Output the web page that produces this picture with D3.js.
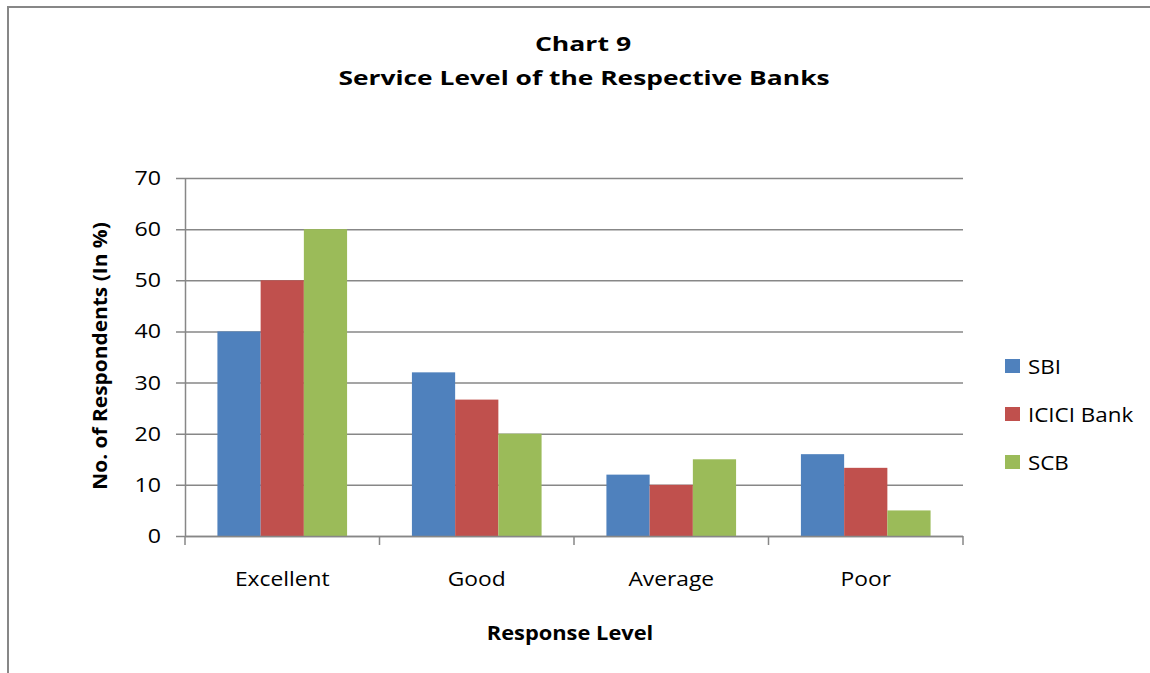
<!DOCTYPE html>
<html>
<head>
<meta charset="utf-8">
<script src="https://cdn.jsdelivr.net/npm/d3@7"></script>
<style>
    body { margin: 0; background: #fff; }
    text { font-family: "Open Sans", "Noto Sans", sans-serif; fill: #000; }
</style>
</head>
<body>
<script>
const categories = ["Excellent", "Good", "Average", "Poor"];
const seriesNames = ["SBI", "ICICI Bank", "SCB"];
const sbiValues = [40, 32, 12, 16];
const iciciValues = [50, 26.67, 10, 13.33];
const scbValues = [60, 20, 15, 5];
const yTicks = [0, 10, 20, 30, 40, 50, 60, 70];
const colors = ["#4F81BD", "#C0504D", "#9BBB59"];

const width = 1150, height = 673;
const plot = { left: 185, right: 963, top: 178, bottom: 536 };

const svg = d3.select("body").append("svg")
    .attr("width", width)
    .attr("height", height);

// the original text is stretched sideways, so every label gets a horizontal scale
function label(parent, x, y, str, size, sx, anchor, bold, rotate) {
    const rot = rotate ? ` rotate(${rotate})` : "";
    return parent.append("text")
        .attr("transform", `translate(${x},${y})${rot} scale(${sx},1)`)
        .attr("text-anchor", anchor)
        .attr("font-size", size)
        .attr("font-weight", bold ? "bold" : "normal")
        .text(str);
}

// outer chart frame
svg.append("rect")
    .attr("x", 8).attr("y", 7)
    .attr("width", 1160).attr("height", 700)
    .attr("fill", "none")
    .attr("stroke", "#878787")
    .attr("stroke-width", 2);

const x0 = d3.scaleBand()
    .domain(categories)
    .range([plot.left, plot.right])
    .paddingInner(0).paddingOuter(0);

const x1 = d3.scaleBand()
    .domain(seriesNames)
    .range([0, x0.bandwidth()])
    .paddingInner(0).paddingOuter(0.75);

const y = d3.scaleLinear()
    .domain([0, 70])
    .range([plot.bottom, plot.top]);

// gridlines + y ticks
svg.append("g")
    .selectAll("line")
    .data(yTicks)
    .join("line")
    .attr("x1", plot.left - 9)
    .attr("x2", plot.right)
    .attr("y1", (d) => y(d) + 0.5)
    .attr("y2", (d) => y(d) + 0.5)
    .attr("stroke", "#878787")
    .attr("stroke-width", 1.5);

// y axis line
svg.append("line")
    .attr("x1", plot.left + 0.5).attr("x2", plot.left + 0.5)
    .attr("y1", plot.top).attr("y2", plot.bottom)
    .attr("stroke", "#878787")
    .attr("stroke-width", 1.5);

// y tick labels
const yLabels = svg.append("g");
yTicks.forEach((t) => label(yLabels, 161, y(t) + 7, t, 20, 1.16, "end"));

// bars
const data = categories.map((c, i) => ({
    category: c,
    values: [sbiValues[i], iciciValues[i], scbValues[i]],
}));

svg.append("g")
    .selectAll("g")
    .data(data)
    .join("g")
    .attr("transform", (d) => `translate(${x0(d.category)},0)`)
    .selectAll("rect")
    .data((d) => d.values.map((v, j) => ({ name: seriesNames[j], value: v, color: colors[j] })))
    .join("rect")
    .attr("x", (d) => x1(d.name))
    .attr("width", x1.bandwidth())
    .attr("y", (d) => y(d.value))
    .attr("height", (d) => y(0) - y(d.value))
    .attr("fill", (d) => d.color);

// x axis line and ticks at category boundaries
svg.append("line")
    .attr("x1", plot.left).attr("x2", plot.right)
    .attr("y1", plot.bottom + 0.5).attr("y2", plot.bottom + 0.5)
    .attr("stroke", "#878787")
    .attr("stroke-width", 1.5);

const boundaries = categories.map((c) => x0(c)).concat([plot.right]);
svg.append("g")
    .selectAll("line")
    .data(boundaries)
    .join("line")
    .attr("x1", (d) => d)
    .attr("x2", (d) => d)
    .attr("y1", plot.bottom)
    .attr("y2", plot.bottom + 9)
    .attr("stroke", "#878787")
    .attr("stroke-width", 1.5);

// category labels
const xLabels = svg.append("g");
categories.forEach((c) =>
    label(xLabels, x0(c) + x0.bandwidth() / 2, 586, c, 20, 1.14, "middle")
);

// titles
label(svg, 583, 51, "Chart 9", 20, 1.33, "middle", true);
label(svg, 584, 85, "Service Level of the Respective Banks", 20, 1.32, "middle", true);
label(svg, 570, 640, "Response Level", 19, 1.15, "middle", true);
label(svg, 107, 356, "No. of Respondents (In %)", 19, 1.1, "middle", true, -90);

// legend
const legend = svg.append("g")
    .selectAll("g")
    .data(seriesNames)
    .join("g")
    .attr("transform", (d, i) => `translate(1005,${359 + i * 48})`);

legend.append("rect")
    .attr("width", 15)
    .attr("height", 14)
    .attr("fill", (d, i) => colors[i]);

legend.append("text")
    .attr("transform", "translate(23,15) scale(1.12,1)")
    .attr("font-size", 20)
    .text((d) => d);
</script>
</body>
</html>
